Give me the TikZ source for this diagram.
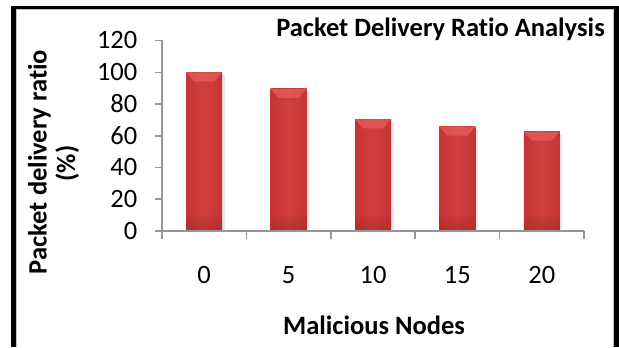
\documentclass[tikz,border=0pt]{standalone}
\usepackage{fontspec}
\setmainfont{Carlito}[Ligatures=NoCommon]
\definecolor{bardark}{RGB}{128,28,32}
\definecolor{barmid}{RGB}{190,48,50}
\definecolor{barlight}{RGB}{210,62,62}
\definecolor{barcap}{RGB}{230,100,96}
\definecolor{axisgrey}{RGB}{150,150,150}
\pgfdeclarehorizontalshading{barshade}{100bp}{%
  color(0bp)=(bardark); color(14bp)=(barmid); color(50bp)=(barlight);
  color(86bp)=(barmid); color(100bp)=(bardark)}
\begin{document}
\begin{tikzpicture}[x=1bp,y=-1bp,
  axis/.style={draw=axisgrey,line width=1.6bp},
  ticklabel/.style={inner sep=0pt,font=\fontsize{26.5bp}{30bp}\selectfont},
  axistitle/.style={inner sep=0pt,font=\bfseries\fontsize{26.5bp}{30bp}\selectfont},
  charttitle/.style={inner sep=0pt,font=\bfseries\fontsize{26.5bp}{30bp}\selectfont},
  barbody/.style={shading=barshade},
  barbevel/.style={fill=barcap,opacity=0.65}]
  \useasboundingbox (0,0) rectangle (619,347);
  \fill[white] (0,0) rectangle (619,347);

  % chart frame: heavy black outline with a thin grey inner edge
  \draw[black,line width=5bp] (13.5,347) -- (13.5,5.5);
  \draw[black,line width=3.6bp] (11,7.5) -- (619,7.5);
  \draw[black,line width=5.5bp] (616.2,5.5) -- (616.2,347);
  \draw[axisgrey!60,line width=0.8bp] (16.5,347) -- (16.5,9.7) -- (612.9,9.7) -- (612.9,347);

  % plot geometry: origin (162,231), 1.586 px per percent, 84.4 px per category
  \coordinate (origin) at (162,231);
  \coordinate (ytop) at (162,40);
  \coordinate (xend) at (584,231);

  % bars
  \foreach \v [count=\i from 0] in {100,89.6,70.4,65.8,62.6} {
    \pgfmathsetmacro\cx{162+84.4*(\i+0.5)}
    \pgfmathsetmacro\bt{231-1.586*\v}
    \fill[black!10] (\cx-16,\bt+3) rectangle (\cx+20.5,231);
    \path[barbody] (\cx-18,\bt) rectangle (\cx+18,231);
    \fill[barbevel] (\cx-18,\bt) -- (\cx+18,\bt) -- (\cx+10,\bt+9) -- (\cx-10,\bt+9) -- cycle;
    \foreach \h in {4,8,12,16}
      \fill[bardark,opacity=0.07] (\cx-18,231-\h) rectangle (\cx+18,231);
    \coordinate (bar\i) at (\cx,\bt);
  }

  % axes and ticks
  \draw[axis] (ytop) -- (origin) -- (xend);
  \foreach \t in {0,20,...,120} {
    \pgfmathsetmacro\ty{231-1.586*\t}
    \draw[axis] (154.5,\ty) -- (162,\ty);
    \node[ticklabel,anchor=base east] (ylab\t) at (137.5,\ty+8.3) {\t};
  }
  \foreach \k in {0,...,5} {
    \pgfmathsetmacro\tx{162+84.4*\k}
    \draw[axis] (\tx,231) -- (\tx,239);
  }
  \foreach \lab [count=\i from 0] in {0,5,10,15,20} {
    \pgfmathsetmacro\cx{162+84.4*(\i+0.5)}
    \node[ticklabel,anchor=base] (xlab\i) at (\cx,283) {\lab};
  }

  % titles
  \node[charttitle,anchor=base] (title) at (440.5,36) {Packet Delivery Ratio Analysis};
  \node[axistitle,anchor=base] (xtitle) at (374,334) {Malicious Nodes};
  \node[axistitle,anchor=base,rotate=90] (ytitle1) at (46.5,162) {Packet delivery ratio};
  \node[axistitle,anchor=base,rotate=90] (ytitle2) at (75,163.5) {(\%)};
\end{tikzpicture}
\end{document}
